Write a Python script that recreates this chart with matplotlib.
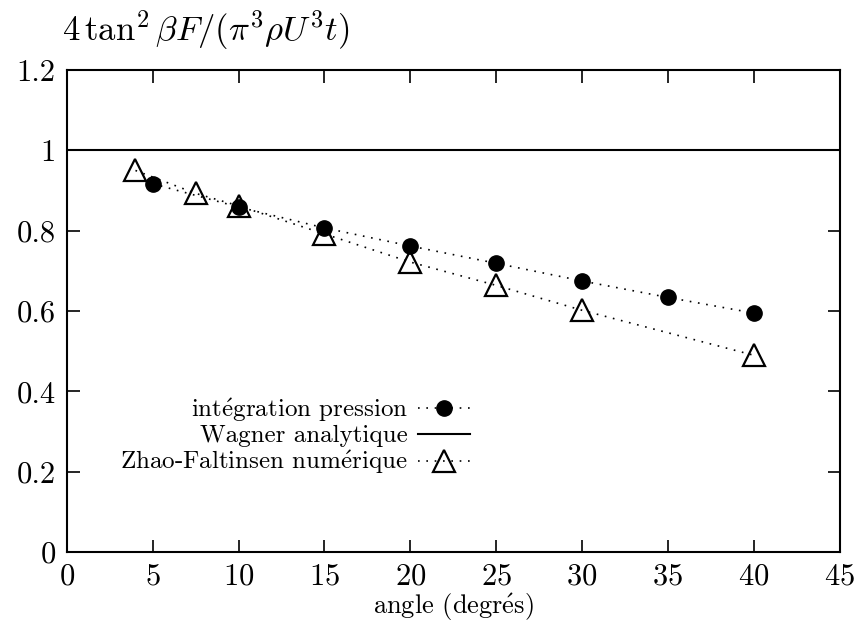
import matplotlib
matplotlib.use('Agg')
import matplotlib.pyplot as plt
from matplotlib.ticker import FuncFormatter

plt.rcParams['font.family'] = ['cmr10', 'DejaVu Serif']
plt.rcParams['mathtext.fontset'] = 'cm'
plt.rcParams['axes.formatter.use_mathtext'] = True

E = r'$\mathrm{\acute{e}}$'  # e accent aigu en Computer Modern

# integration pression
ang_p = [5, 10, 15, 20, 25, 30, 35, 40]
val_p = [0.917, 0.859, 0.807, 0.762, 0.719, 0.675, 0.634, 0.595]
# Zhao-Faltinsen numerique
ang_z = [4, 7.5, 10, 15, 20, 25, 30, 40]
val_z = [0.950, 0.893, 0.862, 0.792, 0.722, 0.664, 0.602, 0.490]
# Wagner analytique
ang_w = [0, 45]
val_w = [1.0, 1.0]

fig = plt.figure(figsize=(8.56, 6.31), dpi=100)
ax = fig.add_axes([0.078, 0.125, 0.903, 0.764])

ax.plot(ang_p, val_p, color='black', linestyle=(0, (1, 4)), linewidth=1.2,
        marker='o', markersize=11, markerfacecolor='black',
        label='int' + E + 'gration pression')
ax.plot(ang_w, val_w, color='black', linestyle='-', linewidth=1.5, label='Wagner analytique')
ax.plot(ang_z, val_z, color='black', linestyle=(0, (1, 4)), linewidth=1.2,
        marker='^', markersize=16, markerfacecolor='none', markeredgewidth=1.6,
        label='Zhao-Faltinsen num' + E + 'rique')

ax.set_xlim(0, 45)
ax.set_ylim(0, 1.2)
ax.set_xticks(range(0, 46, 5))
ax.set_yticks([0, 0.2, 0.4, 0.6, 0.8, 1.0, 1.2])
ax.yaxis.set_major_formatter(FuncFormatter(lambda v, p: '%g' % v))
ax.tick_params(direction='in', top=True, right=True, length=9, width=1.2,
               labelsize=22, pad=8)
for s in ax.spines.values():
    s.set_linewidth(1.5)

ax.set_xlabel('angle (degr' + E + 's)', fontsize=19, labelpad=1)
fig.text(0.072, 0.952, r'$4\,\tan^2\beta F/(\pi^3\rho U^3t)$', fontsize=25,
         ha='left', va='center')

ax.legend(loc='upper right', bbox_to_anchor=(0.535, 0.345), frameon=False,
          markerfirst=False, numpoints=1, fontsize=18, handlelength=2.1,
          labelspacing=0.05, handletextpad=0.4, borderaxespad=0)

fig.savefig('out.png', dpi=100)
